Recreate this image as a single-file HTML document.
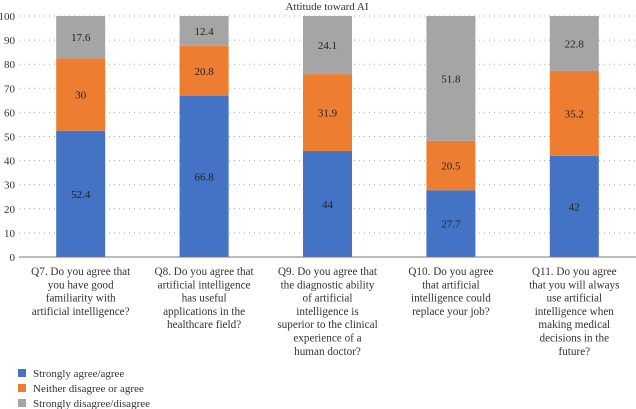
<!DOCTYPE html>
<html><head><meta charset="utf-8"><style>
body{margin:0;background:#fff;}
svg{display:block;font-family:"Liberation Serif",serif;}
</style></head><body>
<svg id="chart" width="636" height="409"></svg>
<script>
const categories=[
 ["Q7. Do you agree that","you have good","familiarity with","artificial intelligence?"],
 ["Q8. Do you agree that","artificial intelligence","has useful","applications in the","healthcare field?"],
 ["Q9. Do you agree that","the diagnostic ability","of artificial","intelligence is","superior to the clinical","experience of a","human doctor?"],
 ["Q10. Do you agree","that artificial","intelligence could","replace your job?"],
 ["Q11. Do you agree","that you will always","use artificial","intelligence when","making medical","decisions in the","future?"]
];
const agree=[52.4,66.8,44,27.7,42];
const neither=[30,20.8,31.9,20.5,35.2];
const disagree=[17.6,12.4,24.1,51.8,22.8];
const seriesNames=["Strongly agree/agree","Neither disagree or agree","Strongly disagree/disagree"];
const yTicks=[0,10,20,30,40,50,60,70,80,90,100];
const colors=["#4472c4","#ed7d31","#a5a5a5"];
const NS="http://www.w3.org/2000/svg";
const svg=document.getElementById('chart');
const x0=19,x1=636,y0=257,yTop=16;
const y=v=>y0-(v/100)*(y0-yTop);
const band=(x1-x0)/categories.length;
const cx=i=>x0+band*(i+0.5);
const bw=49;
function mk(t,a){const e=document.createElementNS(NS,t);for(const k in a)e.setAttribute(k,a[k]);svg.appendChild(e);return e;}
let t=mk('text',{x:327,y:10,'text-anchor':'middle','font-size':11,fill:'#333'});t.textContent="Attitude toward AI";


yTicks.forEach(v=>{
 if(v>0){const g=mk('line',{x1:x0,x2:x1,y1:y(v),y2:y(v),stroke:'#aaa','stroke-dasharray':'1 4','stroke-width':1});
 
 }
 const l=mk('text',{x:15,y:y(v)+4,'text-anchor':'end','font-size':11,fill:'#333'});l.textContent=v;
 
 
});
const series=[agree,neither,disagree];
categories.forEach((c,i)=>{
 let base=0;
 series.forEach((s,k)=>{
  const v=s[i];
  const r=mk('rect',{x:cx(i)-bw/2,y:y(base+v),width:bw,height:y(base)-y(base+v),fill:colors[k]});
  
  
  const lb=mk('text',{x:cx(i),y:y(base+v/2)+4,'text-anchor':'middle','font-size':11,fill:'#222'});lb.textContent=v;
  
  
  base+=v;
 });
 c.forEach((line,j)=>{
  const tl=mk('text',{x:cx(i),y:275+j*13.3,'text-anchor':'middle','font-size':11.2,fill:'#333'});tl.textContent=line;
  
  
 });
});
const ax=mk('line',{x1:x0,x2:x1,y1:y0,y2:y0,stroke:'#777','stroke-width':1});


seriesNames.forEach((n,k)=>{
 const yy=373+k*15;
 const sq=mk('rect',{x:18,y:yy-4,width:8,height:8,fill:colors[k]});
 
 
 const lt=mk('text',{x:33,y:yy+4,'font-size':11,fill:'#333'});lt.textContent=n;
 
 
});
</script>
</body></html>
